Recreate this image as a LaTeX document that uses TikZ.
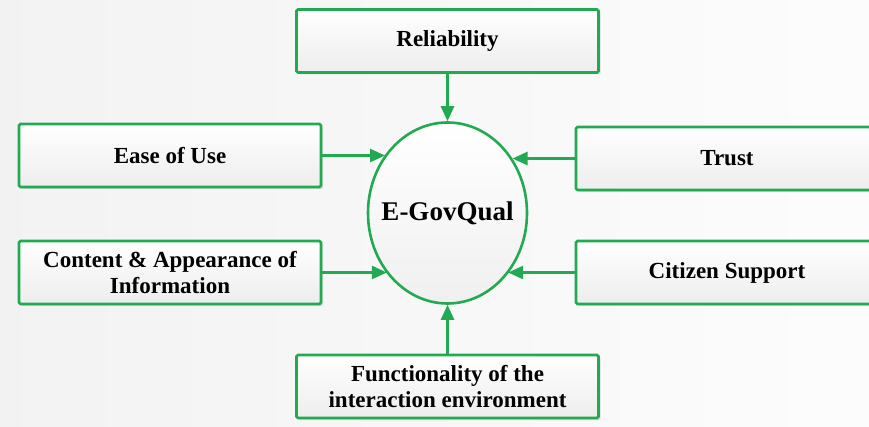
\documentclass[tikz,border=0pt]{standalone}
\usepackage{fontspec}
\setmainfont{Liberation Serif}
\usetikzlibrary{arrows.meta,shapes.geometric,shadows}

\definecolor{boxgreen}{RGB}{34,170,82}

\begin{document}
\begin{tikzpicture}[x=1pt,y=1pt,
    factor/.style={draw=boxgreen, line width=2.6pt, rounded corners=1.5pt,
        top color=white, bottom color=gray!14,
        drop shadow={opacity=0.22, shadow xshift=2pt, shadow yshift=-2pt},
        minimum width=302pt, minimum height=63pt, inner sep=0pt,
        align=center, font=\bfseries\fontsize{23}{26}\selectfont},
    core/.style={ellipse, draw=boxgreen, line width=2.6pt,
        top color=white, bottom color=gray!12,
        minimum width=159pt, minimum height=181pt, inner sep=0pt,
        font=\bfseries\fontsize{27}{30}\selectfont},
    link/.style={draw=boxgreen, line width=2.6pt,
        -{Triangle[length=15pt,width=13pt]}}]

    % background
    \clip (0,0) rectangle (869,-427);
    \shade [left color=gray!10, right color=gray!2] (0,0) rectangle (869,-427);

    \node [core] (qual) at (447.5,-213) {\makebox[0pt]{E-GovQual}};

    \node [factor] (rel)     at (447.5,-41)    {Reliability};
    \node [factor] (ease)    at (170,-155.5)   {Ease of Use};
    \node [factor] (content) at (170,-272.5)   {Content \& Appearance of\\Information};
    \node [factor] (trust)   at (727,-158.5)   {Trust};
    \node [factor] (support) at (727,-272.5)   {Citizen Support};
    \node [factor] (func)    at (447.5,-386.5) {Functionality of the\\interaction environment};

    % arrows into the ellipse
    \draw [link] (rel) -- (qual);
    \draw [link] (func) -- (qual);
    \draw [link] (ease.east) -- (ease.east -| qual.137);
    \draw [link] (content.east) -- (content.east -| qual.-135);
    \draw [link] (trust.west) -- (trust.west -| qual.40);
    \draw [link] (support.west) -- (support.west -| qual.-45);
\end{tikzpicture}
\end{document}
